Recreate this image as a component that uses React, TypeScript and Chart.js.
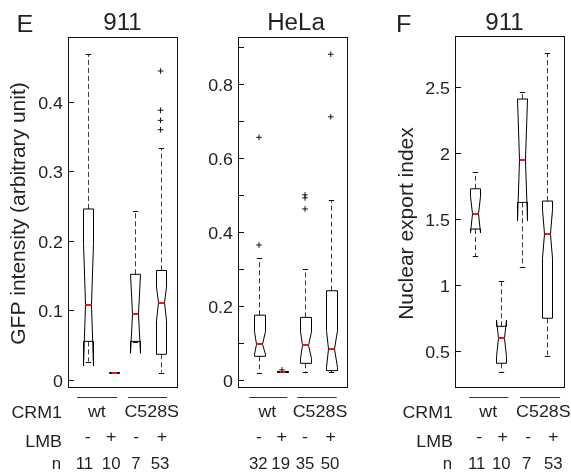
import React, { useEffect, useRef } from "react";
import { Chart, registerables } from "chart.js";

Chart.register(...registerables);

// ---------- shared labels ----------
const CRM1_GROUPS = ["wt", "C528S"];
const LMB_SIGNS = ["-", "+", "-", "+"];

// ---------- Panel E : 911 GFP intensity ----------
const e911Pos = [1, 2, 2.8, 3.8];
const e911WhiskerLo = [0.028, 0.012, 0.0555, 0.012];
const e911Q1 = [0.057, 0.012, 0.057, 0.0384];
const e911Median = [0.11, 0.012, 0.0964, 0.1127];
const e911Q3 = [0.2475, 0.012, 0.1535, 0.159];
const e911WhiskerHi = [0.4705, 0.012, 0.2446, 0.335];
const e911NotchLo = [0.0216, 0.012, 0.0398, 0.087];
const e911NotchHi = [0.198, 0.012, 0.1535, 0.135];
const e911Outliers = [[], [], [], [0.446, 0.3895, 0.375, 0.3616]];
const e911N = ["11", "10", "7", "53"];
const e911Ticks = [0, 0.1, 0.2, 0.3, 0.4];
const e911TickLabels = ["0", "0.1", "0.2", "0.3", "0.4"];

// ---------- Panel E : HeLa GFP intensity ----------
const helaPos = [1, 1.92, 2.84, 3.87];
const helaWhiskerLo = [0.0225, 0.025, 0.0243, 0.024];
const helaQ1 = [0.0667, 0.025, 0.0477, 0.028];
const helaMedian = [0.099, 0.025, 0.0964, 0.0865];
const helaQ3 = [0.178, 0.025, 0.172, 0.244];
const helaWhiskerHi = [0.332, 0.025, 0.3027, 0.489];
const helaNotchLo = [0.072, 0.025, 0.061, 0.037];
const helaNotchHi = [0.134, 0.025, 0.133, 0.136];
const helaOutliers = [[0.3676, 0.6586], [0.03], [0.465, 0.495, 0.503], [0.714, 0.883]];
const helaN = ["32", "19", "35", "50"];
const helaTicks = [0, 0.1, 0.2, 0.3, 0.4, 0.5, 0.6, 0.7, 0.8, 0.9];
const helaTickLabels = ["0", "", "0.2", "", "0.4", "", "0.6", "", "0.8", ""];

// ---------- Panel F : 911 nuclear export index ----------
const f911Pos = [1, 2, 2.8, 3.75];
const f911WhiskerLo = [1.23, 0.353, 1.149, 0.474];
const f911Q1 = [1.434, 0.417, 1.636, 0.758];
const f911Median = [1.55, 0.606, 1.957, 1.396];
const f911Q3 = [1.739, 0.697, 2.419, 1.646];
const f911WhiskerHi = [1.864, 1.042, 2.47, 2.765];
const f911NotchLo = [1.405, 0.467, 1.495, 1.212];
const f911NotchHi = [1.679, 0.745, 2.42, 1.58];
const f911Outliers = [[], [], [], []];
const f911N = ["11", "10", "7", "53"];
const f911Ticks = [0.5, 1, 1.5, 2, 2.5];
const f911TickLabels = ["0.5", "1", "1.5", "2", "2.5"];

const FIG_H = 474;
const TEXT = "#231f20";
const FONT = '"Liberation Sans", Arial, Helvetica, sans-serif';
const MEDIAN_COLOR = "rgb(240,20,30)";

type PanelCfg = {
  left: number;
  width: number;
  area: { l: number; t: number; r: number; b: number };
  xMin: number;
  xMax: number;
  yMin: number;
  yMax: number;
  boxW: number;
  pos: number[];
  wLo: number[];
  q1: number[];
  med: number[];
  q3: number[];
  wHi: number[];
  nLo: number[];
  nHi: number[];
  outliers: number[][];
  n: string[];
  ticks: number[];
  tickLabels: string[];
  signX: number[];
  nX: number[];
  wtLine: number[];
  mutLine: number[];
  wtX: number;
  mutX: number;
  title: string;
  titleX: number;
  letter?: string;
  letterX?: number;
  yTitle?: string;
  yTitleX?: number;
  yTitleY?: number;
  rowLabelX?: number;
};

const PANELS: PanelCfg[] = [
  {
    left: 0, width: 190,
    area: { l: 69, t: 38, r: 178, b: 388 },
    xMin: 0.28, xMax: 4.47, yMin: -0.0101, yMax: 0.4935, boxW: 0.46,
    pos: e911Pos, wLo: e911WhiskerLo, q1: e911Q1, med: e911Median, q3: e911Q3,
    wHi: e911WhiskerHi, nLo: e911NotchLo, nHi: e911NotchHi, outliers: e911Outliers,
    n: e911N, ticks: e911Ticks, tickLabels: e911TickLabels,
    signX: [1.0, 1.9, 2.86, 3.85], nX: [0.87, 1.9, 2.85, 3.78],
    wtLine: [0.59, 2.13], mutLine: [2.55, 4.05], wtX: 1.35, mutX: 3.46,
    title: "911", titleX: 122.5, letter: "E", letterX: 16.5,
    yTitle: "GFP intensity (arbitrary unit)", yTitleX: 25, yTitleY: 213.5, rowLabelX: 62,
  },
  {
    left: 190, width: 190,
    area: { l: 239, t: 38, r: 348, b: 388 },
    xMin: 0.2, xMax: 4.56, yMin: -0.0189, yMax: 0.927, boxW: 0.48,
    pos: helaPos, wLo: helaWhiskerLo, q1: helaQ1, med: helaMedian, q3: helaQ3,
    wHi: helaWhiskerHi, nLo: helaNotchLo, nHi: helaNotchHi, outliers: helaOutliers,
    n: helaN, ticks: helaTicks, tickLabels: helaTickLabels,
    signX: [1.0, 1.908, 2.84, 3.868], nX: [0.972, 1.868, 2.84, 3.84],
    wtLine: [0.612, 2.132], mutLine: [2.532, 4.108], wtX: 1.332, mutX: 3.44,
    title: "HeLa", titleX: 296,
  },
  {
    left: 380, width: 191,
    area: { l: 456, t: 37, r: 565, b: 388 },
    xMin: 0.26, xMax: 4.45, yMin: 0.2295, yMax: 2.889, boxW: 0.46,
    pos: f911Pos, wLo: f911WhiskerLo, q1: f911Q1, med: f911Median, q3: f911Q3,
    wHi: f911WhiskerHi, nLo: f911NotchLo, nHi: f911NotchHi, outliers: f911Outliers,
    n: f911N, ticks: f911Ticks, tickLabels: f911TickLabels,
    signX: [1.156, 2.056, 3.04, 4.0], nX: [1.056, 2.0, 2.98, 4.0],
    wtLine: [0.77, 2.27], mutLine: [2.72, 4.26], wtX: 1.5, mutX: 3.62,
    title: "911", titleX: 504.5, letter: "F", letterX: 396,
    yTitle: "Nuclear export index", yTitleX: 413, yTitleY: 223.5, rowLabelX: 453,
  },
];

function txt(
  ctx: CanvasRenderingContext2D,
  s: string,
  x: number,
  y: number,
  size: number,
  align: CanvasTextAlign = "center",
  sx = 1.05
) {
  ctx.save();
  ctx.translate(x, y);
  ctx.scale(sx, 1);
  ctx.font = `${size}px ${FONT}`;
  ctx.textAlign = align;
  ctx.textBaseline = "alphabetic";
  ctx.fillStyle = TEXT;
  ctx.fillText(s, 0, 0);
  ctx.restore();
}

function snap(v: number) {
  return Math.round(v) + 0.5;
}

function makePlugin(p: PanelCfg) {
  return {
    id: "boxplotPanel",
    beforeDatasetsDraw(chart: any) {
      const ctx: CanvasRenderingContext2D = chart.ctx;
      const xs = chart.scales.x;
      const ys = chart.scales.y;
      const Y = (v: number) => ys.getPixelForValue(v);
      ctx.save();
      for (let i = 0; i < p.pos.length; i++) {
        const cx = snap(xs.getPixelForValue(p.pos[i]));
        const half = (xs.getPixelForValue(p.pos[i] + p.boxW / 2) - xs.getPixelForValue(p.pos[i] - p.boxW / 2)) / 2;
        const L = Math.round(cx - half) + 0.5;
        const R = Math.round(cx + half) - 0.5;
        const nL = cx - half / 2;
        const nR = cx + half / 2;
        const capH = half * 0.45;

        // whiskers (dashed)
        ctx.strokeStyle = "#3a3a3a";
        ctx.lineWidth = 1;
        ctx.setLineDash([5, 3]);
        ctx.beginPath();
        ctx.moveTo(cx, Y(p.q3[i]));
        ctx.lineTo(cx, Y(p.wHi[i]));
        ctx.moveTo(cx, Y(p.q1[i]));
        ctx.lineTo(cx, Y(p.wLo[i]));
        ctx.stroke();
        ctx.setLineDash([]);

        // caps
        ctx.strokeStyle = "#111";
        ctx.beginPath();
        ctx.moveTo(cx - capH, snap(Y(p.wHi[i])));
        ctx.lineTo(cx + capH, snap(Y(p.wHi[i])));
        ctx.moveTo(cx - capH, snap(Y(p.wLo[i])));
        ctx.lineTo(cx + capH, snap(Y(p.wLo[i])));
        ctx.stroke();

        // notched box outline
        ctx.strokeStyle = "#000";
        ctx.beginPath();
        ctx.moveTo(L, Y(p.q1[i]));
        ctx.lineTo(L, Y(p.nLo[i]));
        ctx.lineTo(nL, Y(p.med[i]));
        ctx.lineTo(L, Y(p.nHi[i]));
        ctx.lineTo(L, Y(p.q3[i]));
        ctx.lineTo(R, Y(p.q3[i]));
        ctx.lineTo(R, Y(p.nHi[i]));
        ctx.lineTo(nR, Y(p.med[i]));
        ctx.lineTo(R, Y(p.nLo[i]));
        ctx.lineTo(R, Y(p.q1[i]));
        ctx.closePath();
        ctx.stroke();
        if (p.q1[i] === p.q3[i]) {
          ctx.lineWidth = 2;
          ctx.beginPath();
          ctx.moveTo(L, Math.round(Y(p.q1[i])));
          ctx.lineTo(R, Math.round(Y(p.q1[i])));
          ctx.stroke();
          ctx.lineWidth = 1;
        }

        // median
        ctx.strokeStyle = MEDIAN_COLOR;
        ctx.lineWidth = 2;
        ctx.beginPath();
        ctx.moveTo(nL, Math.round(Y(p.med[i])));
        ctx.lineTo(nR, Math.round(Y(p.med[i])));
        ctx.stroke();
        ctx.lineWidth = 1;
      }
      ctx.restore();
    },
    afterDraw(chart: any) {
      const ctx: CanvasRenderingContext2D = chart.ctx;
      const xs = chart.scales.x;
      const ys = chart.scales.y;
      const a = chart.chartArea;
      const off = p.left;
      ctx.save();
      // frame
      ctx.strokeStyle = "#111";
      ctx.lineWidth = 1;
      ctx.strokeRect(snap(a.left) - 1, snap(a.top) - 1, Math.round(a.right - a.left), Math.round(a.bottom - a.top));
      // inward ticks + labels
      ctx.beginPath();
      for (let i = 0; i < p.ticks.length; i++) {
        const y = snap(ys.getPixelForValue(p.ticks[i])) - 1;
        ctx.moveTo(a.left, y);
        ctx.lineTo(a.left + 5, y);
      }
      ctx.stroke();
      for (let i = 0; i < p.ticks.length; i++) {
        if (!p.tickLabels[i]) continue;
        const y = ys.getPixelForValue(p.ticks[i]);
        txt(ctx, p.tickLabels[i], a.left - 6, y + 6, 17, "right");
      }
      // titles
      txt(ctx, p.title, p.titleX - off, 29.5, 23, "center");
      if (p.letter) txt(ctx, p.letter, (p.letterX as number) - off, 31.5, 24, "left");
      if (p.yTitle) {
        ctx.save();
        ctx.translate((p.yTitleX as number) - off, p.yTitleY as number);
        ctx.rotate(-Math.PI / 2);
        ctx.font = `21px ${FONT}`;
        ctx.textAlign = "center";
        ctx.textBaseline = "alphabetic";
        ctx.fillStyle = TEXT;
        ctx.fillText(p.yTitle, 0, 0);
        ctx.restore();
      }
      // group lines
      ctx.strokeStyle = "#333";
      ctx.beginPath();
      ctx.moveTo(xs.getPixelForValue(p.wtLine[0]), 397.5);
      ctx.lineTo(xs.getPixelForValue(p.wtLine[1]), 397.5);
      ctx.moveTo(xs.getPixelForValue(p.mutLine[0]), 397.5);
      ctx.lineTo(xs.getPixelForValue(p.mutLine[1]), 397.5);
      ctx.stroke();
      txt(ctx, CRM1_GROUPS[0], xs.getPixelForValue(p.wtX), 416.5, 17, "center");
      txt(ctx, CRM1_GROUPS[1], xs.getPixelForValue(p.mutX), 416.5, 17, "center");
      for (let i = 0; i < LMB_SIGNS.length; i++) {
        txt(ctx, LMB_SIGNS[i], xs.getPixelForValue(p.signX[i]), 442, 17, "center");
        txt(ctx, p.n[i], xs.getPixelForValue(p.nX[i]), 469, 16, "center");
      }
      if (p.rowLabelX) {
        const rx = p.rowLabelX - off;
        txt(ctx, "CRM1", rx, 417.5, 17, "right");
        txt(ctx, "LMB", rx, 446.5, 17, "right");
        txt(ctx, "n", rx - 1, 469, 16, "right");
      }
      ctx.restore();
    },
  };
}

function buildChart(canvas: HTMLCanvasElement, p: PanelCfg) {
  const points: { x: number; y: number }[] = [];
  p.outliers.forEach((list, i) => list.forEach((v) => points.push({ x: p.pos[i], y: v })));
  return new Chart(canvas, {
    type: "scatter",
    data: {
      datasets: [
        {
          data: points,
          pointStyle: "cross",
          pointRadius: 2.8,
          pointHoverRadius: 2.8,
          borderColor: "#111",
          backgroundColor: "#111",
          pointBorderWidth: 1,
          showLine: false,
        } as any,
      ],
    },
    options: {
      animation: false,
      responsive: false,
      devicePixelRatio: 1,
      events: [],
      layout: {
        padding: {
          left: p.area.l - p.left,
          right: p.left + p.width - p.area.r,
          top: p.area.t,
          bottom: FIG_H - p.area.b,
        },
      },
      scales: {
        x: { type: "linear", display: false, min: p.xMin, max: p.xMax },
        y: { type: "linear", display: false, min: p.yMin, max: p.yMax },
      },
      plugins: {
        legend: { display: false },
        tooltip: { enabled: false },
      },
    },
    plugins: [makePlugin(p)],
  } as any);
}

export default function App() {
  const r0 = useRef<HTMLCanvasElement>(null);
  const r1 = useRef<HTMLCanvasElement>(null);
  const r2 = useRef<HTMLCanvasElement>(null);

  useEffect(() => {
    const refs = [r0, r1, r2];
    const charts = refs.map((r, i) => buildChart(r.current as HTMLCanvasElement, PANELS[i]));
    return () => charts.forEach((c) => c.destroy());
  }, []);

  const refs = [r0, r1, r2];
  return (
    <div style={{ position: "absolute", left: 0, top: 0, width: 571, height: FIG_H, background: "#fff" }}>
      {PANELS.map((p, i) => (
        <canvas
          key={i}
          ref={refs[i]}
          width={p.width}
          height={FIG_H}
          style={{ position: "absolute", left: p.left, top: 0, width: p.width, height: FIG_H }}
        />
      ))}
    </div>
  );
}
